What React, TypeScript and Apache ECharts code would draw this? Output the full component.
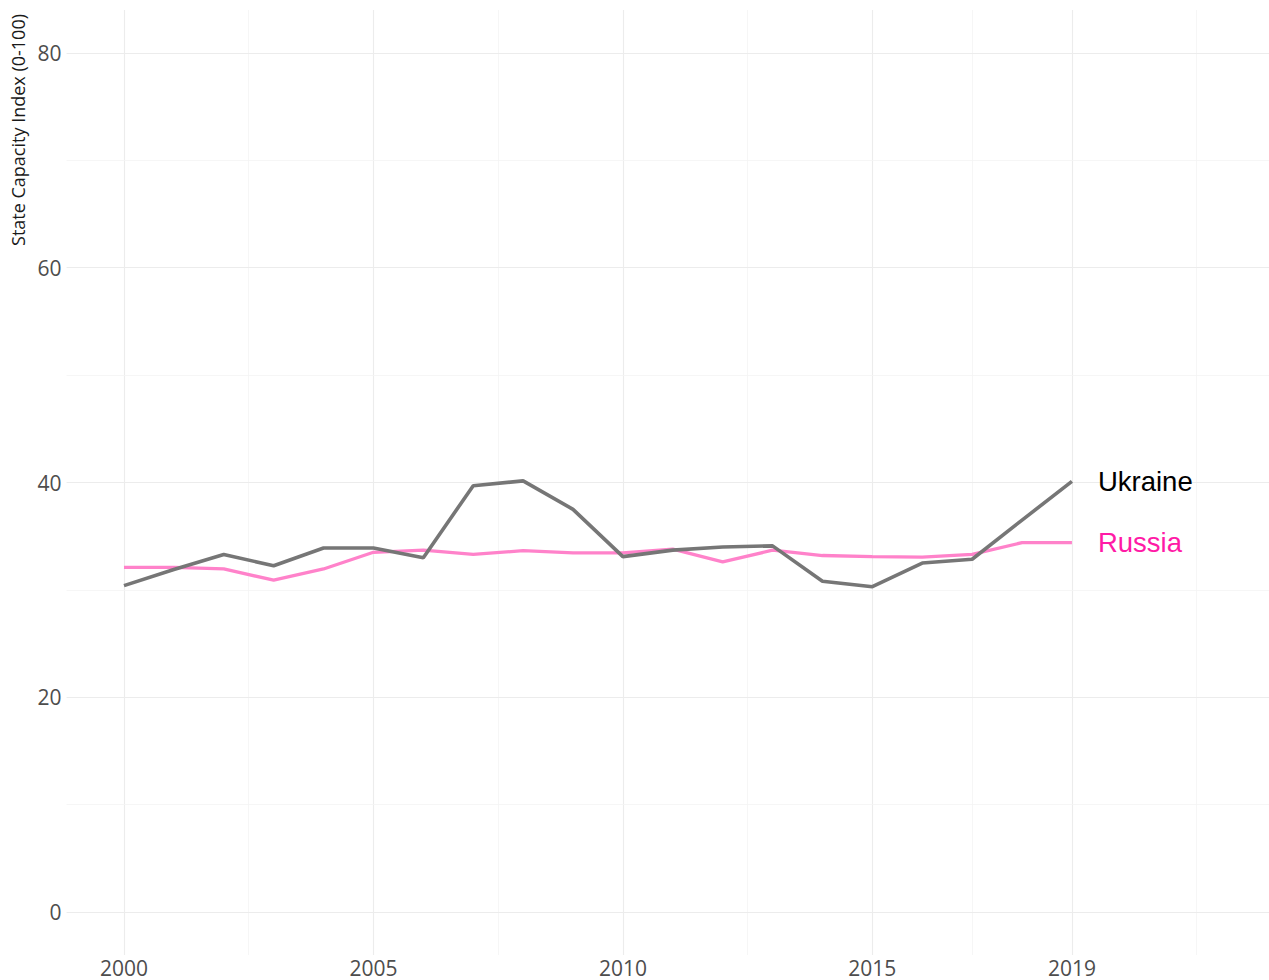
import React, { useEffect, useRef } from "react";
import * as echarts from "echarts";

const years = [2000, 2001, 2002, 2003, 2004, 2005, 2006, 2007, 2008, 2009, 2010, 2011, 2012, 2013, 2014, 2015, 2016, 2017, 2018, 2019];
const ukraine = [30.4, 31.9, 33.3, 32.25, 33.9, 33.9, 33.0, 39.7, 40.15, 37.5, 33.1, 33.7, 34.0, 34.1, 30.8, 30.3, 32.5, 32.85, 36.5, 40.1];
const russia = [32.1, 32.1, 31.95, 30.9, 31.95, 33.5, 33.7, 33.3, 33.65, 33.45, 33.45, 33.8, 32.6, 33.7, 33.2, 33.1, 33.05, 33.3, 34.4, 34.4];
const xTickLabels = [2000, 2005, 2010, 2015, 2019];
const xMinorGrid = [2002.5, 2007.5, 2012.5, 2017, 2021.5];
const yTickLabels = [0, 20, 40, 60, 80];
const yMinorGrid = [10, 30, 50, 70];
const yTitle = "State Capacity Index (0-100)";

export default function App() {
  const ref = useRef<HTMLDivElement>(null);
  useEffect(() => {
    if (!ref.current) return;
    const chart = echarts.init(ref.current, undefined, { renderer: "svg" });
    const major = "#ececec";
    const minor = "#f4f4f4";
    const gridLines = [
      ...xTickLabels.map((v) => ({ xAxis: v, lineStyle: { color: major, width: 1.1, type: "solid" } })),
      ...xMinorGrid.map((v) => ({ xAxis: v, lineStyle: { color: minor, width: 0.8, type: "solid" } })),
      ...yTickLabels.map((v) => ({ yAxis: v, lineStyle: { color: major, width: 1.1, type: "solid" } })),
      ...yMinorGrid.map((v) => ({ yAxis: v, lineStyle: { color: minor, width: 0.8, type: "solid" } })),
    ];
    chart.setOption({
      animation: false,
      backgroundColor: "#ffffff",
      grid: { left: 66.6, right: 0, top: 10, bottom: 25, containLabel: false },
      xAxis: {
        type: "value",
        min: 1998.85,
        max: 2022.95,
        axisLine: { show: false },
        axisTick: { show: false },
        splitLine: { show: false },
        axisLabel: {
          customValues: xTickLabels,
          formatter: (v: number) => String(v),
          color: "#4d4d4d",
          fontSize: 21,
          lineHeight: 20,
          fontFamily: "Open Sans",
          margin: 3,
        },
      },
      yAxis: {
        type: "value",
        min: -4,
        max: 84,
        axisLine: { show: false },
        axisTick: { show: false },
        splitLine: { show: false },
        axisLabel: {
          customValues: yTickLabels,
          formatter: (v: number) => String(v),
          color: "#4d4d4d",
          fontSize: 21,
          fontFamily: "Open Sans",
          margin: 5,
        },
      },
      graphic: [
        {
          type: "text",
          x: 18,
          y: 130,
          rotation: Math.PI / 2,
          style: {
            text: yTitle,
            fontSize: 18,
            fontFamily: "Open Sans",
            fill: "#1a1a1a",
            align: "center",
            verticalAlign: "middle",
          },
        },
      ],
      series: [
        {
          type: "line",
          name: "grid",
          data: [],
          z: 0,
          silent: true,
          markLine: {
            z: 0,
            silent: true,
            symbol: "none",
            label: { show: false },
            animation: false,
            data: gridLines,
          },
        },
        {
          type: "line",
          name: "Russia",
          z: 3,
          data: years.map((y, i) => [y, russia[i]]),
          showSymbol: false,
          lineStyle: { color: "#ff82ca", width: 3.3 },
          itemStyle: { color: "#ff82ca" },
          endLabel: {
            show: true,
            formatter: "Russia",
            distance: 26,
            color: "#ff1aa6",
            fontSize: 27.5,
            fontFamily: "Liberation Sans",
          },
        },
        {
          type: "line",
          name: "Ukraine",
          z: 4,
          data: years.map((y, i) => [y, ukraine[i]]),
          showSymbol: false,
          lineStyle: { color: "#767676", width: 3.6 },
          itemStyle: { color: "#767676" },
          endLabel: {
            show: true,
            formatter: "Ukraine",
            distance: 26,
            color: "#000000",
            fontSize: 27.5,
            fontFamily: "Liberation Sans",
          },
        },
      ],
    });
    return () => chart.dispose();
  }, []);
  return (
    <div
      ref={ref}
      style={{ position: "fixed", left: 0, top: 0, width: 1269, height: 980, background: "#fff" }}
    />
  );
}
